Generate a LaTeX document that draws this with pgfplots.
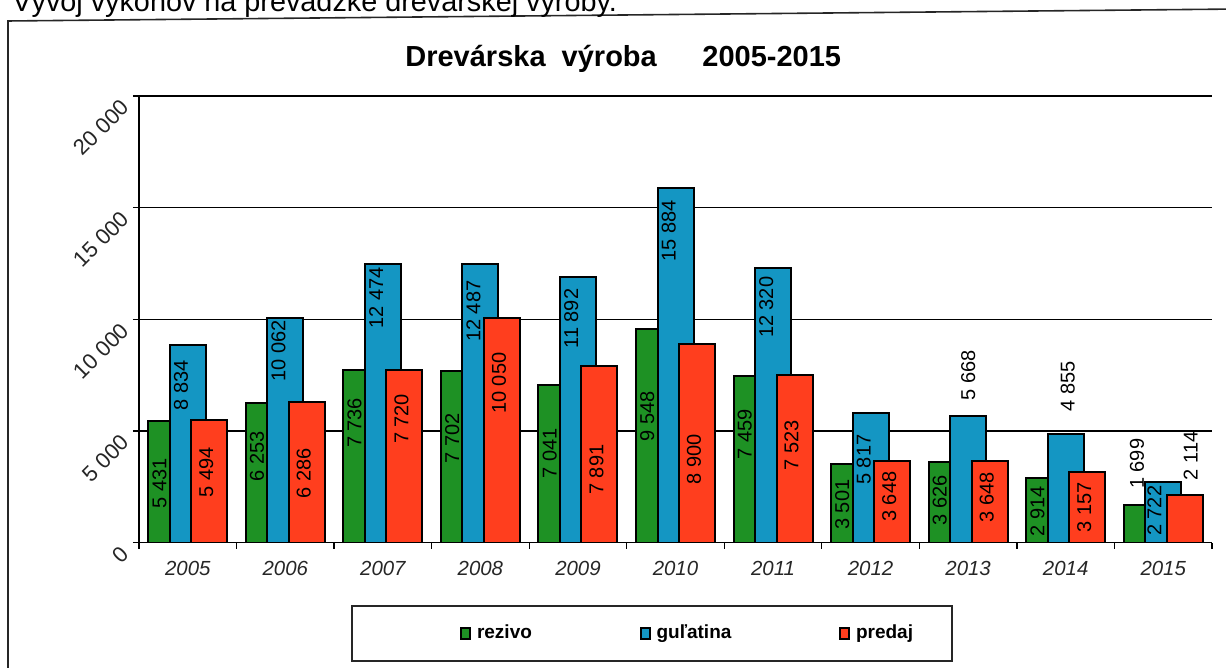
\documentclass[border=0pt]{standalone}
\usepackage{fontspec}
\setmainfont{Liberation Sans}
\usepackage{pgfplots}
\pgfplotsset{compat=1.18}
\usepackage{pgfplotstable}

\definecolor{cgreen}{RGB}{30,145,36}
\definecolor{cblue}{RGB}{20,150,195}
\definecolor{cred}{RGB}{255,62,30}

% x = category, val = value, ly = label height, lx = label x offset
\pgfplotstableread{
x val ly lx
0 5431 2665 -0.29
1 6253 3858 -0.29
2 7736 5363 -0.29
3 7702 4675 -0.29
4 7041 3988 -0.29
5 9548 5672 -0.29
6 7459 4850 -0.29
7 3501 1700 -0.29
8 3626 1907 -0.29
9 2914 1399 -0.29
10 1699 3532 -0.27
}\rezivo

\pgfplotstableread{
x val ly lx
0 8834 7052 -0.07
1 10062 8603 -0.07
2 12474 10959 -0.07
3 12487 10361 -0.07
4 11892 10032 -0.07
5 15884 13955 -0.07
6 12320 10536 -0.07
7 5817 3715 -0.07
8 5668 7503 0.0
9 4855 6995 0.02
10 2722 1427 -0.09
}\gulatina

\pgfplotstableread{
x val ly lx
0 5494 3157 0.19
1 6286 3097 0.19
2 7720 5542 0.19
3 10050 7138 0.19
4 7891 3271 0.19
5 8900 3747 0.19
6 7523 4358 0.19
7 3648 2058 0.19
8 3648 2041 0.19
9 3157 1578 0.19
10 2114 3890 0.28
}\predaj

\begin{document}
\begin{tikzpicture}
\useasboundingbox (0,0) rectangle (613pt,334pt);
\clip (0,0) rectangle (613pt,334pt);
\begin{scope}[shift={(0pt,334pt)}, x=0.5pt, y=-0.5pt]
  \draw[line width=0.8pt, black!85] (8,700) -- (8,21) -- (1240,9);
  \node[anchor=base west, inner sep=0pt, font=\fontsize{14.4}{17}\selectfont] at (12,12)
    {Vývoj výkonov na prevádzke drevárskej výroby.};
  \node[anchor=base west, inner sep=0pt, font=\bfseries\fontsize{14.5}{17}\selectfont] at (405,67)
    {Drevárska\ \ výroba};
  \node[anchor=base west, inner sep=0pt, font=\bfseries\fontsize{14.5}{17}\selectfont] at (702,67)
    {2005-2015};
  \draw[line width=0.8pt, black!85] (352,606) rectangle (952,661);
\end{scope}

\begin{axis}[
  at={(69.5pt,62.65pt)}, anchor=south west,
  scale only axis, width=536.5pt, height=223.35pt,
  xmin=-0.5, xmax=10.5, ymin=0, ymax=20000,
  axis lines*=left,
  axis line style={black, line width=0.7pt},
  tick align=outside, major tick length=3pt,
  tick style={black, line width=0.6pt},
  ytick={0,5000,10000,15000,20000},
  ymajorgrids, grid style={black, line width=0.6pt},
  scaled y ticks=false,
  /pgf/number format/1000 sep={\ },
  /pgf/number format/assume math mode=true,
  yticklabel style={rotate=45, anchor=east, xshift=-2pt, font=\fontsize{11}{13}\selectfont, text=black!85},
  xtick={-0.5,0.5,...,10.5},
  xticklabels={2005,2006,2007,2008,2009,2010,2011,2012,2013,2014,2015},
  x tick label as interval,
  xticklabel style={font=\itshape\fontsize{10.2}{12}\selectfont, text=black!85, yshift=-2.5pt},
  legend style={at={(axis description cs:0.2992,-0.2033)}, anchor=west, draw=none, fill=none,
    inner sep=0pt, font=\bfseries\fontsize{9.5}{11}\selectfont,
    nodes={inner sep=0pt},
    /tikz/every odd column/.append style={column sep=3pt},
    /tikz/every even column/.append style={column sep=54pt}},
  legend columns=3,
  legend image code/.code={\draw[#1, draw=black, line width=0.8pt] (0pt,-2.7pt) rectangle (4.5pt,2.7pt);},
  lab/.style={forget plot, draw=none, mark=none,
    nodes near coords={\pgfmathprintnumber{\pgfplotspointmeta}},
    point meta=explicit,
    nodes near coords style={rotate=90, anchor=center, inner sep=0pt, text=black,
      font=\fontsize{10}{11}\selectfont}},
]
\addplot[ybar, bar width=18pt, bar shift=-10.75pt, fill=cgreen, draw=black, line width=1pt]
  table[x=x, y=val] {\rezivo};
\addlegendentry{rezivo}
\addplot[ybar, bar width=18pt, bar shift=0pt, fill=cblue, draw=black, line width=1pt]
  table[x=x, y=val] {\gulatina};
\addlegendentry{guľatina}
\addplot[ybar, bar width=18pt, bar shift=10.75pt, fill=cred, draw=black, line width=1pt]
  table[x=x, y=val] {\predaj};
\addlegendentry{predaj}

\addplot[lab] table[x expr=\thisrow{x}+\thisrow{lx}, y=ly, meta=val] {\rezivo};
\addplot[lab] table[x expr=\thisrow{x}+\thisrow{lx}, y=ly, meta=val] {\gulatina};
\addplot[lab] table[x expr=\thisrow{x}+\thisrow{lx}, y=ly, meta=val] {\predaj};
\end{axis}
\end{tikzpicture}
\end{document}
